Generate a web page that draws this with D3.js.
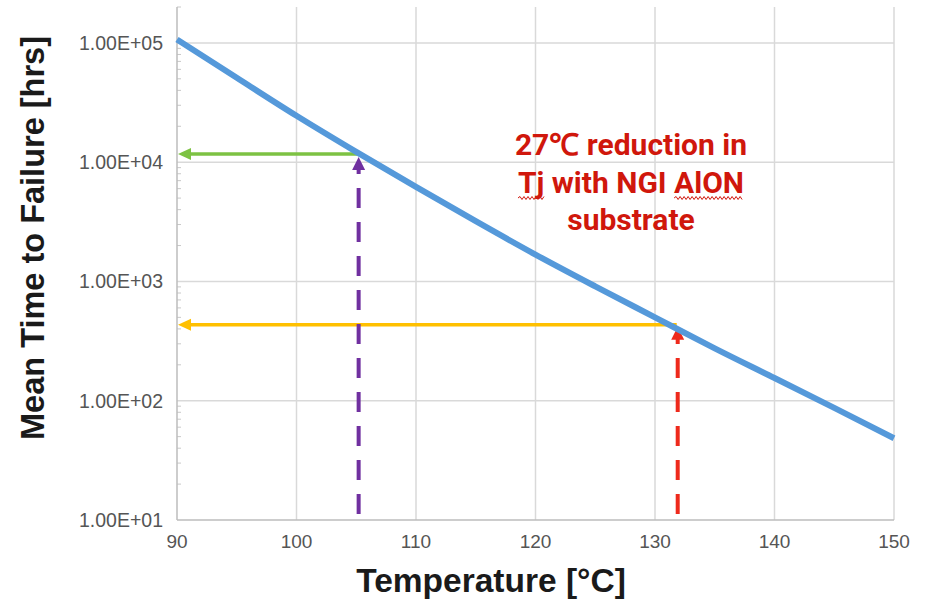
<!DOCTYPE html>
<html>
<head>
<meta charset="utf-8">
<script src="https://cdn.jsdelivr.net/npm/d3@7"></script>
<style>
  body { margin: 0; background: #fff; }
  svg { display: block; }
</style>
</head>
<body>
<div id="chart"></div>
<script>
// dati
const temps = [90, 95, 100, 105, 110, 115, 120, 125, 130, 135, 140, 145, 150];
const mttf = [107000, 51000, 24500, 12200, 6200, 3200, 1680, 910, 500, 275, 155, 87, 48.5];

const xTicks = [90, 100, 110, 120, 130, 140, 150];
const yTicks = [1e1, 1e2, 1e3, 1e4, 1e5];
const yTickLabels = ['1.00E+01', '1.00E+02', '1.00E+03', '1.00E+04', '1.00E+05'];

// punti di riferimento (prima / dopo)
const markerNames = ['NGI AlON', 'standard'];
const markerTemps = [105.2, 131.9];
const markerMttf = [11700, 433];

const annotationLines = ['27\u2103 reduction in', 'Tj with NGI AlON', 'substrate'];

const width = 930, height = 602;
const plotLeft = 177, plotRight = 894, plotTop = 7, plotBottom = 520;

const svg = d3.select('#chart').append('svg')
    .attr('width', width)
    .attr('height', height);

const x = d3.scaleLinear().domain([90, 150]).range([plotLeft, plotRight]);
const y = d3.scaleLog().domain([10, 2e5]).range([plotBottom, plotTop]);

// griglia
svg.append('g').selectAll('line')
    .data(xTicks.slice(1))
    .join('line')
    .attr('x1', d => x(d)).attr('x2', d => x(d))
    .attr('y1', plotTop).attr('y2', plotBottom)
    .attr('stroke', '#d9d9d9').attr('stroke-width', 1.5);

svg.append('g').selectAll('line')
    .data(yTicks.slice(1))
    .join('line')
    .attr('x1', plotLeft).attr('x2', plotRight)
    .attr('y1', d => y(d)).attr('y2', d => y(d))
    .attr('stroke', '#d9d9d9').attr('stroke-width', 1.5);

// tacche minori sull'asse y
const minor = [];
for (let dec = 10; dec < 2e5; dec *= 10) {
    for (let k = 2; k <= 9; k++) {
        if (dec * k <= 2e5) minor.push(dec * k);
    }
}
svg.append('g').selectAll('line')
    .data(minor)
    .join('line')
    .attr('x1', plotLeft).attr('x2', plotLeft + 4)
    .attr('y1', d => y(d)).attr('y2', d => y(d))
    .attr('stroke', '#c8c8c8').attr('stroke-width', 1);

// assi
svg.append('line')
    .attr('x1', plotLeft).attr('x2', plotLeft).attr('y1', plotTop).attr('y2', plotBottom)
    .attr('stroke', '#bdbdbd').attr('stroke-width', 1.5);
svg.append('line')
    .attr('x1', plotLeft).attr('x2', plotRight).attr('y1', plotBottom).attr('y2', plotBottom)
    .attr('stroke', '#bdbdbd').attr('stroke-width', 1.5);

// etichette tacche
svg.append('g').selectAll('text')
    .data(yTicks)
    .join('text')
    .attr('x', 163)
    .attr('y', d => y(d) + 7)
    .attr('text-anchor', 'end')
    .attr('fill', '#555')
    .style('font-family', 'Liberation Sans, Arial, sans-serif')
    .style('font-size', '19.5px')
    .text((d, i) => yTickLabels[i]);

svg.append('g').selectAll('text')
    .data(xTicks)
    .join('text')
    .attr('x', d => x(d))
    .attr('y', 548)
    .attr('text-anchor', 'middle')
    .attr('fill', '#555')
    .style('font-family', 'Liberation Sans, Arial, sans-serif')
    .style('font-size', '19px')
    .text(d => d);

// titoli assi
svg.append('text')
    .attr('x', 491).attr('y', 592)
    .attr('text-anchor', 'middle')
    .attr('fill', '#1a1a1a')
    .style('font-family', 'Liberation Sans, Arial, sans-serif')
    .style('font-weight', 'bold')
    .style('font-size', '33.5px')
    .text('Temperature [°C]');

svg.append('text')
    .attr('transform', 'translate(44,238) rotate(-90)')
    .attr('text-anchor', 'middle')
    .attr('fill', '#1a1a1a')
    .style('font-family', 'Liberation Sans, Arial, sans-serif')
    .style('font-weight', 'bold')
    .style('font-size', '32.5px')
    .text('Mean Time to Failure [hrs]');

// frecce orizzontali
const hColors = ['#7dc243', '#ffc000'];
markerTemps.forEach((t, i) => {
    const yy = y(markerMttf[i]);
    svg.append('line')
        .attr('x1', x(t) - 1).attr('x2', plotLeft + 10)
        .attr('y1', yy).attr('y2', yy)
        .attr('stroke', hColors[i]).attr('stroke-width', 3.5);
    svg.append('path')
        .attr('d', `M${plotLeft + 1},${yy} L${plotLeft + 14},${yy - 6} L${plotLeft + 14},${yy + 6} Z`)
        .attr('fill', hColors[i]);
});

// linee verticali tratteggiate
const vColors = ['#7030a0', '#ee2a1c'];
markerTemps.forEach((t, i) => {
    const xx = x(t);
    const tipY = y(markerMttf[i]) + (i === 0 ? 3 : 2);
    svg.append('line')
        .attr('x1', xx).attr('x2', xx)
        .attr('y1', plotBottom - 6).attr('y2', tipY + 10)
        .attr('stroke', vColors[i]).attr('stroke-width', 4)
        .attr('stroke-dasharray', '20,14');
    svg.append('path')
        .attr('d', `M${xx},${tipY} L${xx - 6.5},${tipY + 13} L${xx + 6.5},${tipY + 13} Z`)
        .attr('fill', vColors[i]);
});

// curva MTTF
const line = d3.line()
    .x((d, i) => x(temps[i]))
    .y(d => y(d))
    .curve(d3.curveMonotoneX);

svg.append('path')
    .datum(mttf)
    .attr('d', line)
    .attr('fill', 'none')
    .attr('stroke', '#5599da')
    .attr('stroke-width', 6);

// annotazione
const ann = svg.append('g')
    .style('font-family', 'Roboto, sans-serif')
    .style('font-weight', 'bold')
    .style('font-size', '30px')
    .attr('fill', '#d0170c');

annotationLines.forEach((txt, i) => {
    ann.append('text')
        .attr('x', 631)
        .attr('y', 155 + i * 37.5)
        .attr('text-anchor', 'middle')
        .text(txt);
});

// sottolineature ondulate (correttore ortografico)
const second = ann.selectAll('text').nodes()[1];
const full = second.getComputedTextLength();
const startX = 631 - full / 2;
function wavy(x0, x1, yy) {
    let d = `M${x0},${yy}`;
    let up = true;
    for (let p = x0 + 2; p <= x1; p += 2) {
        d += ` L${p},${yy + (up ? -1.5 : 1.5)}`;
        up = !up;
    }
    return d;
}
[['Tj', 0], ['AlON', annotationLines[1].indexOf('AlON')]].forEach(([w, idx]) => {
    const a = startX + (idx > 0 ? second.getSubStringLength(0, idx) : 0);
    const b = a + second.getSubStringLength(idx, w.length);
    svg.append('path')
        .attr('d', wavy(a, b, 198))
        .attr('fill', 'none')
        .attr('stroke', '#d0170c')
        .attr('stroke-width', 1);
});
</script>
</body>
</html>
